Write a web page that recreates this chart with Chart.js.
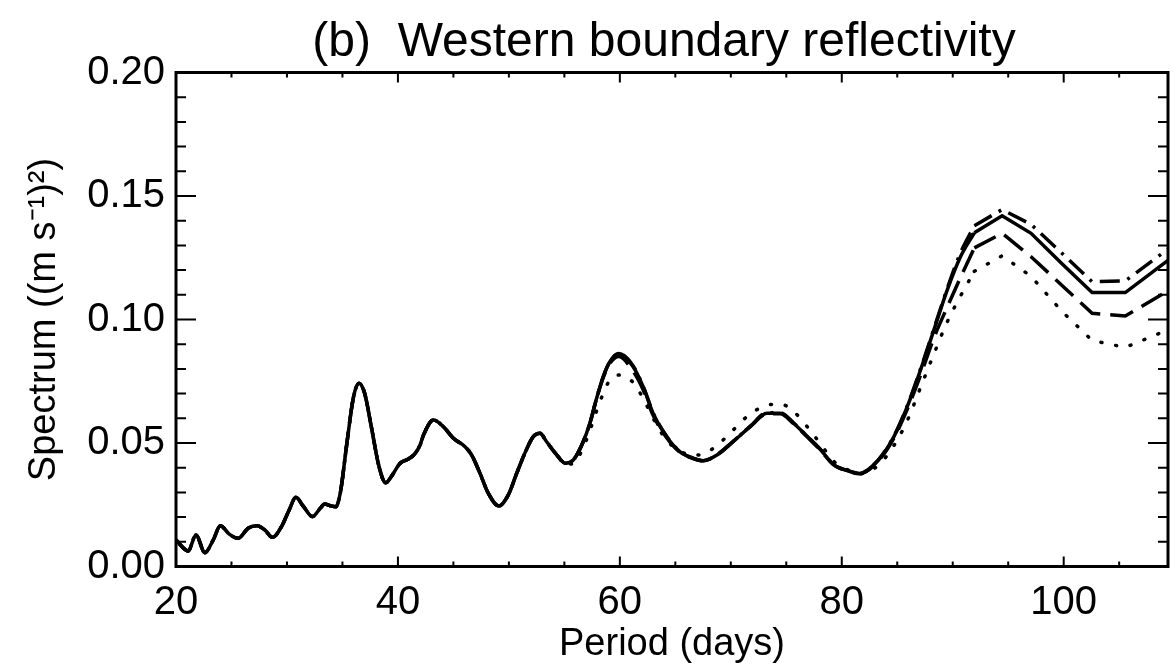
<!DOCTYPE html>
<html>
<head>
<meta charset="utf-8">
<script src="https://cdn.jsdelivr.net/npm/chart.js@4.4.1/dist/chart.umd.min.js"></script>
<style>
  html, body { margin: 0; padding: 0; background: #fff; }
  #wrap { width: 1173px; height: 669px; }
</style>
</head>
<body>
<div id="wrap"><canvas id="chart"></canvas></div>
<script>
// ── Data ─────────────────────────────────────────────────────
const periods = [
  20.0, 21.1, 21.8, 22.6, 23.35, 24.0, 24.8, 25.6, 26.5, 27.3, 28.0, 28.7, 29.5,
  30.2, 30.8, 31.5, 32.3, 33.0, 33.4, 33.9, 34.4, 34.8, 35.4, 36.0, 36.5, 37.0,
  37.6, 38.3, 38.9, 39.4, 40.2, 40.9, 41.5, 42.0, 42.3, 43.2, 44.1, 45.0, 46.05,
  46.65, 47.4, 48.15, 49.1, 49.95, 50.7, 51.5, 52.2, 52.8, 53.4, 54.2, 55.1,
  55.8, 56.6, 57.3, 57.9, 58.5, 59.1, 59.9, 61.2, 62.1, 63.0, 64.2, 65.4, 66.6,
  67.5, 68.75, 70.2, 71.75, 73.25, 74.45, 75.65, 76.9, 78.1, 79.3, 80.5, 81.6,
  83.3, 84.7, 85.9, 87.1, 88.3, 89.5, 90.7, 91.95, 94.45, 97.06, 99.8, 102.56,
  105.55, 108.8, 110.0
];

// shared low-period part (all four runs coincide up to ~55 days)
const common = [
  0.0107, 0.0063, 0.0128, 0.0056, 0.0107, 0.0165, 0.0131, 0.0114, 0.0155, 0.0165, 0.0148, 0.0118, 0.0161,
  0.0229, 0.0280, 0.0242, 0.0202, 0.0236, 0.0253, 0.0246, 0.0242, 0.0296, 0.0499, 0.0687, 0.0742, 0.0701,
  0.0566, 0.0404, 0.0339, 0.0364, 0.0418, 0.0434, 0.0455, 0.0492, 0.0532, 0.0593, 0.0566, 0.0519, 0.0485,
  0.0451, 0.0377, 0.0296, 0.0245, 0.0290, 0.0377, 0.0465, 0.0526, 0.0539, 0.0505, 0.0458, 0.0418
];

const solidTail = [
  0.0431, 0.0495, 0.0580, 0.0680, 0.0768, 0.0829, 0.0862, 0.0809, 0.0728, 0.0620, 0.0526, 0.0465, 0.0438,
  0.0428, 0.0451, 0.0505, 0.0566, 0.0620, 0.0620, 0.0580, 0.0526, 0.0472, 0.0411, 0.0388, 0.0377,
  0.0431, 0.0526, 0.0647, 0.0796, 0.0957, 0.1119, 0.1254, 0.1351, 0.1420, 0.1349, 0.1228, 0.1109,
  0.1109, 0.1219, 0.1260
];

const dashedTail = [
  0.0431, 0.0495, 0.0580, 0.0680, 0.0765, 0.0822, 0.0850, 0.0790, 0.0715, 0.0612, 0.0522, 0.0463, 0.0437,
  0.0428, 0.0452, 0.0506, 0.0567, 0.0618, 0.0618, 0.0578, 0.0524, 0.0470, 0.0410, 0.0387, 0.0376,
  0.0428, 0.0520, 0.0636, 0.0775, 0.0925, 0.1050, 0.1170, 0.1290, 0.1349, 0.1254, 0.1140, 0.1025,
  0.1014, 0.1100, 0.1135
];

const dashDotTail = [
  0.0431, 0.0495, 0.0580, 0.0680, 0.0768, 0.0829, 0.0862, 0.0812, 0.0730, 0.0622, 0.0528, 0.0466, 0.0439,
  0.0429, 0.0452, 0.0506, 0.0567, 0.0622, 0.0622, 0.0582, 0.0527, 0.0473, 0.0412, 0.0389, 0.0378,
  0.0432, 0.0528, 0.0650, 0.0800, 0.0962, 0.1125, 0.1270, 0.1380, 0.1445, 0.1385, 0.1270, 0.1153,
  0.1156, 0.1265, 0.1305
];

const dottedTail = [
  0.0415, 0.0472, 0.0550, 0.0630, 0.0700, 0.0755, 0.0775, 0.0745, 0.0680, 0.0600, 0.0512, 0.0468, 0.0451,
  0.0455, 0.0490, 0.0552, 0.0618, 0.0652, 0.0658, 0.0628, 0.0565, 0.0495, 0.0425, 0.0392, 0.0375,
  0.0410, 0.0490, 0.0590, 0.0725, 0.0860, 0.0990, 0.1095, 0.1195, 0.1258, 0.1175, 0.1035, 0.0915,
  0.0887, 0.0947, 0.0975
];

// beyond this period the spectral estimates are coarse: straight segments between them
const coarseFrom = 91.95;

const xTicks = [20, 40, 60, 80, 100];
const yTicks = [0.00, 0.05, 0.10, 0.15, 0.20];
const xMinorStep = 5;
const yMinorStep = 0.01;

const titleText = '(b)  Western boundary reflectivity';
const FONT = "'Liberation Sans', Arial, Helvetica, sans-serif";

const toPoints = (tail) => periods.map((p, i) => ({ x: p, y: i < common.length ? common[i] : tail[i - common.length] }));

// ── Frame, inward ticks and title ────────────────────────────
const frameTicks = {
  id: 'frameTicks',
  afterDatasetsDraw(chart) {
    const { ctx, chartArea: a, scales: { x, y } } = chart;
    ctx.save();
    ctx.strokeStyle = '#000';
    ctx.lineWidth = 2;
    ctx.beginPath();
    for (let v = x.min; v <= x.max + 1e-9; v += xMinorStep) {
      const px = x.getPixelForValue(v);
      const len = xTicks.includes(Math.round(v)) ? 10 : 5;
      ctx.moveTo(px, a.bottom); ctx.lineTo(px, a.bottom - len);
      ctx.moveTo(px, a.top);    ctx.lineTo(px, a.top + len);
    }
    for (let i = 0; i <= Math.round((y.max - y.min) / yMinorStep); i++) {
      const v = y.min + i * yMinorStep;
      const py = y.getPixelForValue(v);
      const len = i % 5 === 0 ? 20 : 10;
      ctx.moveTo(a.left, py);  ctx.lineTo(a.left + len, py);
      ctx.moveTo(a.right, py); ctx.lineTo(a.right - len, py);
    }
    ctx.stroke();
    ctx.lineWidth = 3;
    ctx.strokeRect(a.left, a.top, a.right - a.left, a.bottom - a.top);

    ctx.fillStyle = '#000';
    ctx.font = `48px ${FONT}`;
    ctx.textAlign = 'center';
    ctx.textBaseline = 'alphabetic';
    ctx.fillText(titleText, 664, 56);
    ctx.restore();
  }
};

// each run: smooth part (dense estimates) + straight part (coarse estimates)
function series(label, tail, dash, cap) {
  const pts = toPoints(tail);
  const base = {
    borderColor: '#000',
    borderWidth: 3.5,
    borderDash: dash,
    borderCapStyle: cap,
    pointRadius: 0,
    fill: false
  };
  return [
    { ...base, label, data: pts.filter(p => p.x <= coarseFrom), cubicInterpolationMode: 'monotone' },
    { ...base, label: label + ' (coarse)', data: pts.filter(p => p.x >= coarseFrom), tension: 0 }
  ];
}

new Chart(document.getElementById('chart'), {
  type: 'line',
  data: {
    datasets: [
      ...series('dotted', dottedTail, [1, 14], 'round'),
      ...series('dashed', dashedTail, [24, 10], 'butt'),
      ...series('dash-dot', dashDotTail, [20, 8, 3, 8], 'butt'),
      ...series('solid', solidTail, [], 'butt')
    ]
  },
  options: {
    responsive: true,
    maintainAspectRatio: false,
    animation: false,
    layout: { padding: { top: 72.5, right: 5, left: 0, bottom: 0 } },
    plugins: {
      legend: { display: false },
      tooltip: { enabled: false },
      title: { display: false }
    },
    scales: {
      x: {
        type: 'linear',
        min: 20,
        max: 109.4,
        grid: { display: false, drawTicks: false },
        border: { display: false },
        afterBuildTicks: (s) => { s.ticks = xTicks.map(v => ({ value: v })); },
        afterFit: (s) => { s.height = 102.5; },
        ticks: {
          color: '#000',
          padding: 12,
          maxRotation: 0,
          font: { family: FONT, size: 40 },
          callback: (v) => String(v)
        },
        title: {
          display: true,
          text: 'Period (days)',
          color: '#000',
          font: { family: FONT, size: 38 },
          padding: { top: 0, bottom: 2 }
        }
      },
      y: {
        type: 'linear',
        min: 0,
        max: 0.2,
        grid: { display: false, drawTicks: false },
        border: { display: false },
        afterBuildTicks: (s) => { s.ticks = yTicks.map(v => ({ value: v })); },
        afterFit: (s) => { s.width = 176; },
        ticks: {
          color: '#000',
          padding: 11,
          font: { family: FONT, size: 40 },
          callback: (v) => Number(v).toFixed(2)
        },
        title: {
          display: true,
          text: 'Spectrum ((m s\u207B\u00B9)\u00B2)',
          color: '#000',
          font: { family: FONT, size: 38 },
          padding: { top: 22, bottom: 0 }
        }
      }
    }
  },
  plugins: [frameTicks]
});
</script>
</body>
</html>
